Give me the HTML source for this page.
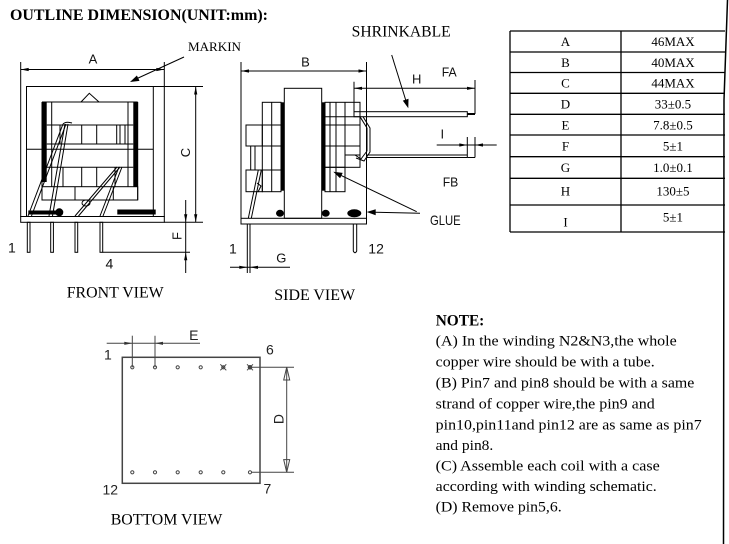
<!DOCTYPE html>
<html><head><meta charset="utf-8"><style>
html,body{margin:0;padding:0;background:#fff;}
svg{display:block;}
</style></head><body>
<svg width="729" height="544" viewBox="0 0 729 544" xmlns="http://www.w3.org/2000/svg" font-family="'Liberation Serif', serif">
<rect width="729" height="544" fill="#fff"/>

<!-- Title -->
<text x="10" y="20" font-size="16" font-weight="bold" textLength="258" lengthAdjust="spacingAndGlyphs">OUTLINE DIMENSION(UNIT:mm):</text>

<!-- page right border -->
<polyline points="727.5,0 724,100 723.5,544" fill="none" stroke="#000" stroke-width="1.5"/>

<!-- ============ TABLE ============ -->
<g stroke="#000" stroke-width="1.3" fill="none">
<line x1="510" y1="31" x2="725" y2="31"/>
<line x1="510" y1="52" x2="725" y2="52"/>
<line x1="510" y1="72.5" x2="725" y2="72.5"/>
<line x1="510" y1="93.3" x2="725" y2="93.3"/>
<line x1="510" y1="114.3" x2="725" y2="114.3"/>
<line x1="510" y1="135" x2="725" y2="135"/>
<line x1="510" y1="156.7" x2="725" y2="156.7"/>
<line x1="510" y1="178.3" x2="725" y2="178.3"/>
<line x1="510" y1="205" x2="725" y2="205"/>
<line x1="510" y1="232" x2="725" y2="232"/>
<line x1="510" y1="31" x2="510" y2="232"/>
<line x1="621" y1="31" x2="621" y2="232"/>
</g>
<g font-size="13" text-anchor="middle" fill="#000">
<text x="565.5" y="46">A</text><text x="673" y="46">46MAX</text>
<text x="565.5" y="67">B</text><text x="673" y="67">40MAX</text>
<text x="565.5" y="87.5">C</text><text x="673" y="87.5">44MAX</text>
<text x="565.5" y="108.5">D</text><text x="673" y="108.5">33±0.5</text>
<text x="565.5" y="129.3">E</text><text x="673" y="129.3">7.8±0.5</text>
<text x="565.5" y="150.5">F</text><text x="673" y="150.5">5±1</text>
<text x="565.5" y="172">G</text><text x="673" y="172">1.0±0.1</text>
<text x="565.5" y="195.5">H</text><text x="673" y="195.5">130±5</text>
<text x="565.5" y="226.5">I</text><text x="673" y="221.5">5±1</text>
</g>

<!-- ============ FRONT VIEW ============ -->
<g stroke="#000" stroke-width="1" fill="none">
<!-- A dimension -->
<line x1="20.7" y1="62" x2="20.7" y2="217"/>
<line x1="164.3" y1="62" x2="164.3" y2="217"/>
<line x1="20.7" y1="69.5" x2="164.3" y2="69.5"/>
<!-- case -->
<rect x="26.5" y="86.5" width="126.8" height="130"/>
<line x1="153.3" y1="86.5" x2="203" y2="86.5"/>
<line x1="164.3" y1="222.3" x2="203" y2="222.3"/>
<!-- bump -->
<polyline points="81,102 89.3,93.3 99,102"/>
<!-- inner frame -->
<line x1="42" y1="102" x2="137.7" y2="102"/>
<line x1="42" y1="102" x2="42" y2="200"/>
<line x1="137.7" y1="102" x2="137.7" y2="200"/>
<line x1="51.7" y1="102" x2="51.7" y2="186.7"/>
<line x1="128" y1="102" x2="128" y2="186.7"/>
<!-- upper coil -->
<line x1="46.7" y1="125" x2="133.3" y2="125"/>
<line x1="46.7" y1="144" x2="133.3" y2="144"/>
<line x1="60" y1="125" x2="60" y2="144"/>
<line x1="81.7" y1="125" x2="81.7" y2="144"/>
<line x1="96.7" y1="125" x2="96.7" y2="144"/>
<line x1="116.7" y1="125" x2="116.7" y2="144"/>
<line x1="120" y1="125" x2="120" y2="144"/>
<line x1="125" y1="125" x2="125" y2="144"/>
<line x1="26.5" y1="149.3" x2="153.3" y2="149.3"/>
<!-- lower coil -->
<line x1="46.7" y1="167.3" x2="133.3" y2="167.3"/>
<line x1="63" y1="167.3" x2="63" y2="186.7"/>
<line x1="81.7" y1="167.3" x2="81.7" y2="186.7"/>
<line x1="96.7" y1="167.3" x2="96.7" y2="186.7"/>
<line x1="115" y1="167.3" x2="115" y2="186.7"/>
<rect x="42" y="186.7" width="95.7" height="13.3"/>
<line x1="75" y1="186.7" x2="75" y2="200"/>
<line x1="113.3" y1="186.7" x2="113.3" y2="200"/>
<!-- wires -->
<line x1="63" y1="124" x2="28" y2="216"/>
<line x1="66" y1="124" x2="31.5" y2="216"/>
<line x1="65" y1="124" x2="49" y2="216"/>
<line x1="68" y1="124" x2="52.5" y2="216"/>
<path d="M63,124 Q66,121 72,123"/>
<line x1="117" y1="167" x2="75" y2="216"/>
<line x1="120" y1="167" x2="78.5" y2="216"/>
<line x1="119" y1="167" x2="100" y2="216"/>
<line x1="122" y1="167" x2="103" y2="216"/>
<ellipse cx="86" cy="203" rx="4" ry="3"/>
<!-- base & pins -->
<rect x="20.7" y="216.5" width="143.6" height="5.8"/>
<rect x="27.3" y="222.3" width="2.7" height="30"/>
<rect x="50.7" y="222.3" width="2.7" height="30"/>
<rect x="75" y="222.3" width="2.7" height="30"/>
<rect x="100" y="222.3" width="2.7" height="30"/>
<line x1="102.7" y1="252.3" x2="190" y2="252.3"/>
<!-- C / F dims -->
<line x1="195.7" y1="86.5" x2="195.7" y2="222.3"/>
<line x1="185.7" y1="200" x2="185.7" y2="273"/>
<!-- MARKIN leader -->
<line x1="184" y1="57" x2="136" y2="79"/>
</g>
<g fill="#000" stroke="none">
<rect x="41.7" y="102" width="5" height="80"/>
<rect x="133.3" y="102" width="4.4" height="85"/>
<rect x="28.3" y="210.5" width="28.4" height="4"/>
<circle cx="59.3" cy="212.3" r="4"/>
<rect x="117.3" y="209.5" width="38.4" height="5"/>
<polygon points="20.7,69.5 28.7,67.9 28.7,71.1"/>
<polygon points="164.3,69.5 156.3,67.9 156.3,71.1"/>
<polygon points="195.7,86.5 194.1,94.5 197.3,94.5"/>
<polygon points="195.7,222.3 194.1,214.3 197.3,214.3"/>
<polygon points="185.7,222.3 184.1,214.3 187.3,214.3"/>
<polygon points="185.7,252.3 184.1,260.3 187.3,260.3"/>
<polygon points="130,82 139.5,80.9 136.9,75.5"/>
</g>
<g font-family="'Liberation Sans', sans-serif" fill="#111">
<text x="93" y="63.5" font-size="13" text-anchor="middle">A</text>
<text transform="translate(190,152.5) rotate(-90)" font-size="13" text-anchor="middle">C</text>
<text transform="translate(181.5,236) rotate(-90)" font-size="13" text-anchor="middle">F</text>
<text x="8" y="252.7" font-size="14">1</text>
<text x="105.5" y="268.3" font-size="14">4</text>
</g>
<text x="188" y="51" font-size="13" textLength="53" lengthAdjust="spacingAndGlyphs">MARKIN</text>
<text x="66.7" y="297.3" font-size="16" textLength="97" lengthAdjust="spacingAndGlyphs">FRONT VIEW</text>

<!-- ============ SIDE VIEW ============ -->
<g stroke="#000" stroke-width="1" fill="none">
<line x1="241" y1="62" x2="241" y2="218.3"/>
<line x1="366.5" y1="62" x2="366.5" y2="218.3"/>
<line x1="241" y1="71" x2="366.5" y2="71"/>
<!-- core -->
<rect x="284.3" y="88.3" width="37.4" height="130"/>
<!-- left coil -->
<rect x="262.3" y="102.3" width="18.7" height="89.4"/>
<line x1="271.7" y1="102.3" x2="271.7" y2="191.7"/>
<line x1="246" y1="125" x2="281" y2="125"/>
<line x1="246" y1="146" x2="281" y2="146"/>
<line x1="246" y1="170" x2="281" y2="170"/>
<rect x="246" y="125" width="16.3" height="21"/>
<rect x="246" y="170" width="16.3" height="21.7"/>
<line x1="250.7" y1="146" x2="250.7" y2="170"/>
<line x1="255" y1="146" x2="255" y2="170"/>
<!-- right coil -->
<rect x="325" y="102.3" width="35" height="65"/>
<rect x="325" y="167.3" width="20" height="24.4"/>
<line x1="325" y1="116.7" x2="360" y2="116.7"/>
<line x1="325" y1="125" x2="360" y2="125"/>
<line x1="325" y1="146" x2="360" y2="146"/>
<line x1="345" y1="155" x2="360" y2="155"/>
<line x1="330" y1="102.3" x2="330" y2="191.7"/>
<line x1="336" y1="102.3" x2="336" y2="191.7"/>
<line x1="345" y1="102.3" x2="345" y2="191.7"/>
<!-- hook wire -->
<path d="M360,116.7 L367,128 L367,151 L361,159 L355,155"/>
<path d="M363,116.7 L370,128 L370,152 L364,161 L356,158"/>
<!-- leads -->
<rect x="354" y="111.7" width="113.3" height="5"/>
<line x1="354" y1="81.7" x2="354" y2="111.7"/>
<line x1="475" y1="80" x2="475" y2="114"/>
<line x1="354" y1="88.3" x2="475" y2="88.3"/>
<line x1="366.7" y1="155" x2="467.3" y2="155"/>
<line x1="366.7" y1="157.5" x2="467.3" y2="157.5"/>
<line x1="467.3" y1="137" x2="467.3" y2="157.5"/>
<line x1="475" y1="137" x2="475" y2="157.5"/>
<line x1="467.3" y1="157.5" x2="475" y2="157.5"/>
<line x1="436.7" y1="145" x2="496.7" y2="145"/>
<!-- left diag wire -->
<line x1="258.3" y1="170" x2="248.3" y2="218.3"/>
<line x1="261.3" y1="170" x2="251.3" y2="218.3"/>
<path d="M257,183 L261,186 L258,192"/>
<!-- base and pins -->
<rect x="241" y="218.3" width="125.5" height="5.7"/>
<line x1="247.3" y1="224" x2="247.3" y2="273"/>
<line x1="250" y1="224" x2="250" y2="273"/>
<path d="M353.3,224 V251 Q355,254.5 356.7,251 V224"/>
<line x1="230" y1="267.3" x2="290" y2="267.3"/>
<!-- leaders -->
<line x1="391.7" y1="55" x2="406" y2="101"/>
<line x1="416.7" y1="211.7" x2="340" y2="174.9"/>
<line x1="420" y1="213.3" x2="374" y2="212.2"/>
</g>
<g fill="#000" stroke="none">
<rect x="281" y="102.3" width="3.3" height="88.4"/>
<rect x="321.7" y="102.3" width="3.3" height="88.4"/>
<line x1="467.3" y1="114" x2="475" y2="114" stroke="#000" stroke-width="2"/>
<ellipse cx="280" cy="213.3" rx="4" ry="3.5"/>
<ellipse cx="325.7" cy="213.3" rx="4" ry="3.5"/>
<ellipse cx="354.3" cy="213.3" rx="7" ry="4"/>
<polygon points="241,71 249,69.4 249,72.6"/>
<polygon points="366.5,71 358.5,69.4 358.5,72.6"/>
<polygon points="354,88.3 362,86.7 362,89.9"/>
<polygon points="475,88.3 467,86.7 467,89.9"/>
<polygon points="467.3,145 459.3,143.4 459.3,146.6"/>
<polygon points="475,145 483,143.4 483,146.6"/>
<polygon points="247.3,267.3 239.3,265.7 239.3,268.9"/>
<polygon points="250,267.3 258,265.7 258,268.9"/>
<polygon points="408.3,108.3 408.5,98.8 402.8,100.6"/>
<polygon points="333.3,171.7 342.7,172.9 340.1,178.3"/>
<polygon points="366.7,212 375.7,209.2 375.7,215.2"/>
</g>
<g font-family="'Liberation Sans', sans-serif" fill="#111">
<text x="305.5" y="66.7" font-size="13" text-anchor="middle">B</text>
<text x="416.7" y="83.3" font-size="13" text-anchor="middle">H</text>
<text x="441.7" y="76.7" font-size="13" textLength="15" lengthAdjust="spacingAndGlyphs">FA</text>
<text x="442.3" y="138.3" font-size="13" text-anchor="middle">I</text>
<text x="442.7" y="186.7" font-size="13" textLength="15.6" lengthAdjust="spacingAndGlyphs">FB</text>
<text x="430" y="225" font-size="14" textLength="30.7" lengthAdjust="spacingAndGlyphs">GLUE</text>
<text x="281.3" y="262.7" font-size="13" text-anchor="middle">G</text>
<text x="229" y="253.3" font-size="14">1</text>
<text x="368.3" y="253.3" font-size="14">12</text>
</g>
<text x="351.7" y="36.7" font-size="15.5" textLength="99" lengthAdjust="spacingAndGlyphs">SHRINKABLE</text>
<text x="274.3" y="300" font-size="16" textLength="80.7" lengthAdjust="spacingAndGlyphs">SIDE VIEW</text>

<!-- ============ BOTTOM VIEW ============ -->
<g stroke="#444" stroke-width="1.5" fill="none">
<rect x="122.3" y="357.3" width="137.7" height="126"/>
</g>
<g stroke="#444" stroke-width="1" fill="none">
<circle cx="132.3" cy="367.3" r="1.6"/>
<circle cx="155" cy="367.3" r="1.6"/>
<circle cx="177.7" cy="367.3" r="1.6"/>
<circle cx="200.7" cy="367.3" r="1.6"/>
<circle cx="223.3" cy="367.3" r="1.6"/>
<line x1="220.3" y1="364.3" x2="226.3" y2="370.3"/>
<line x1="226.3" y1="364.3" x2="220.3" y2="370.3"/>
<circle cx="250" cy="367.3" r="1.8" fill="#444"/>
<line x1="247" y1="364.3" x2="253" y2="370.3"/>
<line x1="253" y1="364.3" x2="247" y2="370.3"/>
<circle cx="132.3" cy="472.3" r="1.6"/>
<circle cx="155" cy="472.3" r="1.6"/>
<circle cx="177.7" cy="472.3" r="1.6"/>
<circle cx="200.7" cy="472.3" r="1.6"/>
<circle cx="223.3" cy="472.3" r="1.6"/>
<circle cx="250" cy="472.3" r="1.6"/>
<!-- E dim -->
<line x1="132.3" y1="335.7" x2="132.3" y2="367.3"/>
<line x1="155" y1="335.7" x2="155" y2="367.3"/>
<line x1="106.7" y1="343.3" x2="200" y2="343.3"/>
<!-- D dim -->
<line x1="252" y1="367.3" x2="294" y2="367.3"/>
<line x1="252" y1="472.3" x2="294" y2="472.3"/>
<line x1="286.7" y1="367.3" x2="286.7" y2="472.3"/>
<polygon points="286.7,367.3 283.7,380 289.7,380"/>
<polygon points="286.7,472.3 283.7,459.6 289.7,459.6"/>
</g>
<g fill="#333" stroke="none">
<polygon points="132.3,343.3 124.3,341.7 124.3,344.9"/>
<polygon points="155,343.3 163,341.7 163,344.9"/>
</g>
<g font-family="'Liberation Sans', sans-serif" fill="#222">
<text x="193.8" y="340" font-size="14" text-anchor="middle">E</text>
<text transform="translate(283.3,419) rotate(-90)" font-size="14" text-anchor="middle">D</text>
<text x="104" y="359.3" font-size="14">1</text>
<text x="266" y="354.3" font-size="14">6</text>
<text x="102.5" y="494.3" font-size="14">12</text>
<text x="263.5" y="493.3" font-size="14">7</text>
</g>
<text x="110.7" y="524.3" font-size="16" textLength="111.7" lengthAdjust="spacingAndGlyphs">BOTTOM VIEW</text>

<!-- ============ NOTES ============ -->
<text x="435.7" y="325.7" font-size="16" font-weight="bold" textLength="48.6" lengthAdjust="spacingAndGlyphs">NOTE:</text>
<g font-size="15" fill="#000">
<text x="435.7" y="345.7" textLength="241" lengthAdjust="spacingAndGlyphs">(A) In the winding N2&amp;N3,the whole</text>
<text x="435.7" y="366.7" textLength="219" lengthAdjust="spacingAndGlyphs">copper wire should be with a tube.</text>
<text x="435.7" y="387.7" textLength="258.6" lengthAdjust="spacingAndGlyphs">(B) Pin7 and pin8 should be with a same</text>
<text x="435.7" y="408.3" textLength="219" lengthAdjust="spacingAndGlyphs">strand of copper wire,the pin9 and</text>
<text x="435.7" y="429.3" textLength="266" lengthAdjust="spacingAndGlyphs">pin10,pin11and pin12 are as same as pin7</text>
<text x="435.7" y="450" textLength="57.6" lengthAdjust="spacingAndGlyphs">and pin8.</text>
<text x="435.7" y="470.7" textLength="224" lengthAdjust="spacingAndGlyphs">(C) Assemble each coil with a case</text>
<text x="435.7" y="491" textLength="221" lengthAdjust="spacingAndGlyphs">according with winding schematic.</text>
<text x="435.7" y="511.7" textLength="126" lengthAdjust="spacingAndGlyphs">(D) Remove pin5,6.</text>
</g>
</svg>
</body></html>
